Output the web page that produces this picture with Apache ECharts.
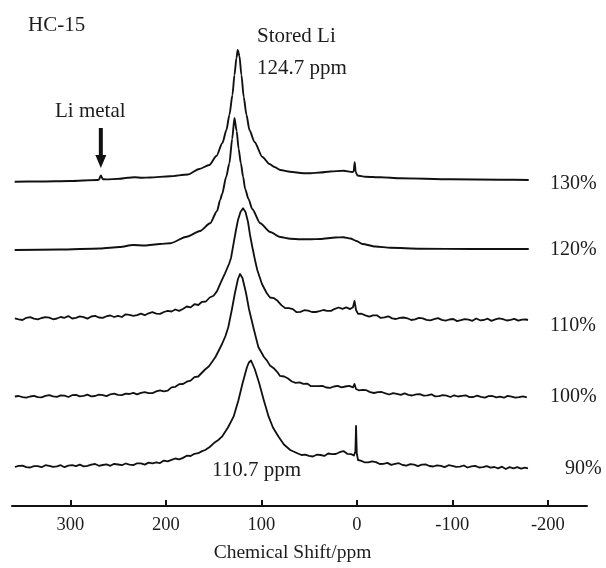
<!DOCTYPE html>
<html>
<head>
<meta charset="utf-8">
<title>HC-15 7Li NMR</title>
<script src="https://cdn.jsdelivr.net/npm/echarts@6/dist/echarts.min.js"></script>
<style>
  html, body { margin: 0; padding: 0; background: #fff; }
  #chart { width: 606px; height: 568px; }
</style>
</head>
<body>
<div id="chart"></div>
<script>
// Axis ticks (ppm) and sample labels, top trace first
const tickValues = [300, 200, 100, 0, -100, -200];
const sampleLabels = ['130%', '120%', '110%', '100%', '90%'];
// Vertical stacking offset of each trace's baseline
const baselineOffsets = [326, 257, 186, 109, 38.5];

// Spectra as [chemical shift (ppm), intensity above own baseline]
const spec130 = [
  [358.2,-1.7],[332,-1.5],[300.5,-1],[272.2,0],[270.1,0.3],[268,4.5],[265.9,0.8],[262.8,0.6],
  [248.1,1.2],[240,2.2],[232.4,2.8],[225,2.2],[216.6,2.5],[195.6,3.8],[177,5.5],[165,11],
  [154.4,15],[147,24],[140.7,37],[136.5,50],[133.4,65],[130.2,85],[128.1,105],[126,122],
  [124.7,130],[122.9,124],[120.8,105],[118.4,83],[115.5,65],[112.4,50],[107.1,38],[98.8,23],
  [91.4,16],[86.2,13],[80,10],[70,8.3],[56,6.8],[48.6,6.7],[38.2,7.5],[27.7,8.5],[14,9.3],
  [4.6,8],[3.3,8.5],[2.2,17.7],[1.2,8],[-0.6,4.5],[-9,3.3],[-24.8,2.7],[-45.7,1.7],
  [-98.2,0.7],[-150.7,0.3],[-180,0]
];
const spec120 = [
  [358.2,-1],[311,-0.5],[269,0.5],[248.1,2],[234.4,4],[221.8,3.5],[206.1,5],[195.6,5.7],
  [178.1,12.3],[164.1,18],[153.6,25.7],[146.3,38],[143.1,49],[141,55],[136.8,72],[133.4,85.7],
  [130.5,110],[128.1,131],[125.8,118],[123.7,100],[121.4,85.7],[119,72],[116.9,60],[113.4,50],
  [109.5,40],[101.1,25.7],[90.7,17],[80.2,12],[69.7,10.3],[59.2,9.7],[48,9.7],[38.2,10],
  [22.5,11.5],[14.1,11.8],[6.7,10.5],[0.4,8],[-5.9,5],[-19.5,2.5],[-35.3,1.2],[-66.7,0.3],
  [-119.2,0],[-180,0]
];
const spec110 = [
  [358,1.6],[354,0.7],[350,0.0],[346,2.2],[342,2.8],[338,1.3],[334,0.6],[330,2.0],[326,2.9],
  [322,2.4],[318,0.7],[314,1.5],[310,3.0],[306,2.2],[302,3.9],[298,1.5],[294,2.2],[290,3.6],
  [286,2.9],[282,1.4],[278,3.5],[274,4.1],[270,2.5],[266,2.1],[262,3.8],[258,4.5],[254,3.0],
  [250,4.1],[246,3.0],[242,5.7],[238,5.2],[234,4.1],[230,4.8],[226,6.4],[222,4.8],[218,6.7],
  [214,7.8],[210,6.4],[206,6.1],[202,8.0],[198,9.1],[194,8.5],[190,10.5],[186,9.1],
  [181.7,11.2],[178,13.5],[174,12.6],[170,15.8],[166,15.0],[162,18.2],[158,18.5],[154,22.5],
  [150,24.3],[146.5,28.6],[142,38.4],[138,46.7],[133.8,56],[131.7,62],[129.3,75],[126.5,90],
  [124.4,100],[121.8,108],[119.1,111.7],[116.5,108],[113.9,98],[111.8,85],[109.2,72],[106.6,60],
  [104.2,50],[99.3,36],[94.4,27],
  [90.9,22.5],[87,21.9],[83,19.2],[79,14.9],[75,11.9],[71,11.8],[67,10.9],[63,7.8],[59,8.1],
  [55,9.8],[51,9.3],[47,8.0],[43,8.0],[39,8.9],[35,10.0],[31,9.1],[27,9.1],[23,11.2],[19,12.5],
  [15,11.2],[11,12.6],[7,10.9],[4,12.8],[2.4,19],[0.8,10],[-1.3,6.2],
  [-5,6.3],[-9,4.6],[-13,3.3],[-17,4.7],[-21,4.7],[-25,2.1],[-29,2.6],[-33,3.7],[-37,1.6],
  [-41,1.0],[-45,2.1],[-49,2.5],[-53,1.7],[-57,0.0],[-61,0.7],[-65,2.1],[-69,1.7],[-73,0.1],
  [-77,-0.3],[-81,0.9],[-85,1.9],[-89,0.1],[-93,-0.7],[-97,0.5],[-101,1.0],[-105,-1.1],
  [-109,-0.2],[-113,0.9],[-117,0.4],[-121,-0.8],[-125,1.5],[-129,-0.3],[-133,0.0],[-137,1.3],
  [-141,-0.9],[-145,0.6],[-149,1.6],[-153,0.8],[-157,-0.5],[-161,0.1],[-165,1.1],[-169,-0.6],
  [-173,0.4],[-177,0.5],[-179.2,0]
];
const spec100 = [
  [358,0.5],[354,1.0],[350,-0.1],[346,-0.7],[342,0.5],[338,1.2],[334,-0.1],[330,-0.3],[326,1.1],
  [322,1.9],[318,0.6],[314,0.1],[310,1.6],[306,1.3],[302,0.0],[298,1.8],[294,2.1],[290,0.7],
  [286,1.1],[282,2.3],[278,0.7],[274,1.0],[270,2.3],[266,1.8],[262,0.9],[258,2.7],[254,3.3],
  [250,2.2],[246,1.9],[242,3.4],[238,3.0],[234,4.2],[230,2.6],[226,4.1],[222,4.9],[218,3.9],
  [214,3.8],[210,5.6],[206,6.6],[202,5.6],[198,6.3],[194,9.7],[190,10.2],[186,12.8],[182,13.0],
  [178,15.3],[174,16.3],[170,19.9],[166,20.5],[164.2,22],[158.9,27.5],[155,30.5],[151.6,35],
  [148,40],[145.3,45],[141.1,53],[137.5,61],[134.5,70],[130.7,88],[127.6,104],[124.4,118],
  [122.3,123],[119.7,119],[116,104],[112.9,88],[108.4,70],[103.1,50],[97.2,40],
  [94,36.4],[90.9,31.4],[87,28.8],[83,24.7],[80.4,21.1],[76,20.5],[72,18.5],[68,15.5],[64,14.2],
  [60,14.6],[56,13.1],[52,13.4],[48,10.8],[44,10.8],[40,10.9],[36,11.1],[32,9.5],[28,9.2],
  [24,10.5],[20,11.1],[16,9.7],[12,10.5],[8,11.2],[4,9.7],[2.4,13],[0.8,8],
  [-2,6.7],[-6,7.2],[-10,6.8],[-14,4.9],[-18,4.0],[-22,4.8],[-26,5.0],[-30,3.7],[-34,2.5],
  [-38,3.9],[-42,3.2],[-46,2.1],[-50,3.6],[-54,2.2],[-58,1.5],[-62,2.6],[-66,2.9],[-70,1.3],
  [-74,1.6],[-78,2.7],[-82,0.6],[-86,0.9],[-90,1.8],[-94,1.3],[-98,0.0],[-102,1.7],[-106,0.5],
  [-110,1.1],[-114,1.7],[-118,-0.1],[-122,0.0],[-126,1.4],[-130,0.2],[-134,-0.6],[-138,0.8],
  [-142,1.0],[-146,-0.3],[-150,0.3],[-154,-0.7],[-158,1.1],[-162,0.4],[-166,-0.7],[-170,-0.2],
  [-174,0.7],[-178,-0.4]
];
const spec90 = [
  [358,0.5],[354,1.6],[350,1.9],[346,0.3],[342,0.0],[338,1.4],[334,1.3],[330,0.3],[326,2.3],
  [322,1.7],[318,0.6],[314,1.1],[310,2.3],[306,0.3],[302,1.8],[298,2.3],[294,1.3],[290,2.9],
  [286,1.1],[282,1.7],[278,2.9],[274,3.5],[270,1.7],[266,2.5],[262,3.1],[258,1.7],[254,3.7],
  [250,3.0],[246,2.3],[242,4.0],[238,2.8],[234,2.4],[230,4.2],[226,4.1],[222,2.9],[218,4.9],
  [214,4.1],[210,5.1],[206,4.4],[202,6.9],[198,6.1],[194,7.6],[190,9.0],[186,8.2],[182,9.6],
  [178,11.8],[174,11.5],[170,13.7],[166,14.3],[162,16.4],[158.7,17.5],[154,20.5],[149.6,24.4],
  [145,27.5],[141.2,30.8],[134.9,40],[129,50.8],[124,67],[119.6,84.2],[115.1,100],[113,105],
  [110.7,107],[108.8,105],[106.7,98],[102.2,84.2],[97.3,67],[92.3,50.8],[87.8,40],[81.9,30.8],
  [76.3,23],[69.7,17.5],[64,15],[58,12.5],
  [54,12.9],[50,11.6],[46,11.0],[42,12.8],[38,12.5],[34,11.6],[30,14.0],[26,13.4],[22,13.5],
  [18,15.3],[14,16.4],[10,13.7],[6,13.4],[3,12],[1.5,16],[0.8,41.5],[0,14],[-1.3,7.5],
  [-4,6.9],[-8,5.2],[-12,5.2],[-16,6.2],[-20,5.4],[-24,3.5],[-28,3.7],[-32,4.6],[-36,2.6],
  [-40,3.6],[-44,4.3],[-48,2.5],[-52,1.9],[-56,3.4],[-60,2.8],[-64,1.4],[-68,2.8],[-72,3.1],
  [-76,1.5],[-80,1.0],[-84,2.2],[-88,1.7],[-92,0.4],[-96,2.3],[-100,1.7],[-104,0.6],[-108,0.9],
  [-112,2.0],[-116,0.0],[-120,1.1],[-124,1.6],[-128,0.0],[-132,0.3],[-136,1.4],[-140,-0.2],
  [-144,0.5],[-148,-0.8],[-152,0.8],[-156,-1.5],[-160,0.4],[-164,-0.9],[-168,0.4],[-172,-1.2],
  [-176,-0.1],[-179.2,-0.8]
];

const FONT = '"Liberation Serif", "Times New Roman", serif';
const INK = '#111';
const TEXT = '#1c1c1c';

const spectra = [spec130, spec120, spec110, spec100, spec90];

const series = spectra.map((spec, k) => ({
  type: 'line',
  name: sampleLabels[k],
  data: spec.map(([ppm, v]) => [ppm, v + baselineOffsets[k]]),
  showSymbol: false,
  symbol: 'none',
  smooth: k < 2 ? 0.25 : false,
  smoothMonotone: 'x',
  silent: true,
  animation: false,
  lineStyle: { color: INK, width: k < 2 ? 1.9 : 1.8, join: 'round' }
}));

function textEl(str, x, y, size) {
  return {
    type: 'text', silent: true,
    style: {
      text: str, x: x, y: y,
      font: size + 'px ' + FONT,
      fill: TEXT,
      align: 'left', verticalAlign: 'middle',
      textAlign: 'left', textVerticalAlign: 'middle'
    }
  };
}

const chart = echarts.init(document.getElementById('chart'), null, { renderer: 'canvas' });
chart.setOption({
  backgroundColor: '#fff',
  animation: false,
  grid: { left: 12, right: 19, top: 6, bottom: 62 },
  xAxis: {
    type: 'value',
    min: -241,
    max: 361,
    inverse: true,
    axisLine: { show: true, onZero: false, lineStyle: { color: INK, width: 2 } },
    axisTick: { show: true, inside: true, length: 6, customValues: tickValues,
                lineStyle: { color: INK, width: 2 } },
    axisLabel: { customValues: tickValues, margin: 10, fontFamily: FONT, fontSize: 18.5, color: TEXT },
    splitLine: { show: false },
    name: 'Chemical Shift/ppm',
    nameLocation: 'middle',
    nameGap: 37,
    nameTextStyle: { fontFamily: FONT, fontSize: 19.5, color: TEXT, padding: [0, 14, 0, 0] }
  },
  yAxis: { type: 'value', min: 0, max: 500, show: false },
  series: series
});

// Sample labels sit to the right of each trace's end
const labelPlace = [[550, 183.3], [550, 250], [550, 326], [550, 396.6], [565, 468.3]];
const sampleTexts = sampleLabels.map((s, k) => textEl(s, labelPlace[k][0], labelPlace[k][1], 20));

// Arrow marking the Li metal signal, anchored in data coordinates
const tail = chart.convertToPixel({ gridIndex: 0 }, [268, 378]);
const tip = chart.convertToPixel({ gridIndex: 0 }, [268, 338]);
const headH = 13, headW = 11;

chart.setOption({
  graphic: [
    textEl('HC-15', 28, 25.6, 21),
    textEl('Stored Li', 257, 36.2, 21),
    textEl('124.7 ppm', 257, 68.9, 21),
    textEl('Li metal', 55, 111.2, 21),
    textEl('110.7 ppm', 212, 470.9, 21),
    ...sampleTexts,
    {
      type: 'line', silent: true,
      shape: { x1: tail[0], y1: tail[1], x2: tip[0], y2: tip[1] - headH + 1 },
      style: { stroke: INK, lineWidth: 4 }
    },
    {
      type: 'polygon', silent: true,
      shape: { points: [[tip[0] - headW / 2, tip[1] - headH], [tip[0] + headW / 2, tip[1] - headH], [tip[0], tip[1]]] },
      style: { fill: INK }
    }
  ]
});
</script>
</body>
</html>
